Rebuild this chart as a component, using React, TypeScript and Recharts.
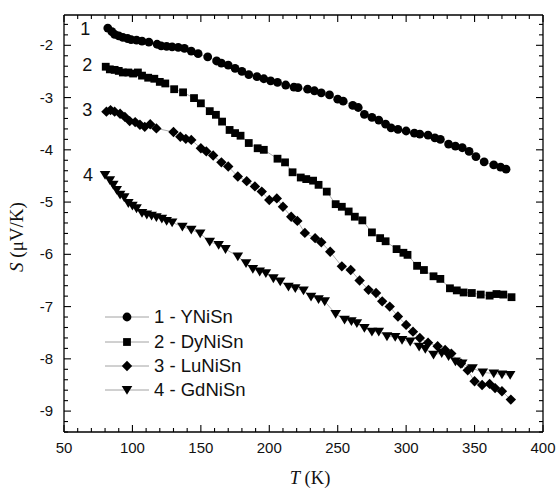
import React from 'react';
import { LineChart, Line, XAxis, YAxis, Legend, ReferenceDot } from 'recharts';

// Seebeck coefficient S (uV/K) vs temperature T (K)
const tempsYNiSn = [82, 85, 87, 90, 93, 96.5, 99, 103, 107, 112, 118, 121, 125, 129, 133.5, 138, 143, 148, 155, 161.5, 165, 170, 175, 180, 185, 191, 196, 201, 206, 212, 218, 221, 228, 233, 238, 244, 250, 254, 261, 265, 269.5, 275, 280, 285, 289, 294, 300, 306, 310, 316, 321, 325, 331, 336, 341, 346, 351, 357, 364, 369, 373];
const seebeckYNiSn = [-1.67, -1.74, -1.79, -1.82, -1.85, -1.87, -1.89, -1.9, -1.92, -1.94, -1.98, -2.01, -2.02, -2.03, -2.04, -2.06, -2.11, -2.16, -2.22, -2.3, -2.34, -2.38, -2.44, -2.5, -2.56, -2.6, -2.64, -2.68, -2.71, -2.76, -2.8, -2.81, -2.84, -2.87, -2.91, -2.95, -3.03, -3.07, -3.15, -3.19, -3.32, -3.38, -3.43, -3.51, -3.58, -3.61, -3.64, -3.68, -3.7, -3.72, -3.77, -3.8, -3.89, -3.93, -3.96, -4.03, -4.13, -4.23, -4.29, -4.33, -4.37];

const tempsDyNiSn = [80.5, 83.5, 87, 90, 93, 97, 100.5, 104, 107, 111.5, 116, 120, 124, 130.5, 137, 145, 150, 156.5, 161, 165.5, 171, 175, 179, 185, 191.5, 196, 206, 211.5, 217, 223, 227, 232, 236, 242, 248.5, 253, 258, 262.5, 268, 275, 281, 285, 293, 298, 301, 308, 313, 320, 325, 332, 337, 342, 348, 354.5, 361, 366, 371, 377];
const seebeckDyNiSn = [-2.41, -2.46, -2.47, -2.49, -2.52, -2.52, -2.54, -2.52, -2.58, -2.62, -2.64, -2.7, -2.73, -2.84, -2.9, -3.01, -3.11, -3.26, -3.33, -3.46, -3.62, -3.68, -3.73, -3.87, -3.97, -4.0, -4.17, -4.24, -4.43, -4.53, -4.56, -4.59, -4.67, -4.8, -5.04, -5.09, -5.18, -5.28, -5.35, -5.58, -5.69, -5.75, -5.9, -5.97, -6.01, -6.22, -6.3, -6.42, -6.47, -6.65, -6.69, -6.73, -6.74, -6.77, -6.79, -6.76, -6.77, -6.82];

const tempsLuNiSn = [81, 84, 87, 91, 94.5, 98, 102, 105.5, 109, 113, 117.5, 130, 135, 139, 143, 150, 154, 159, 165, 170, 177, 183.5, 189.5, 194.5, 200, 205.5, 210, 216, 220.5, 226, 233.5, 238, 244.5, 253, 259.5, 266, 272.5, 278, 282.5, 288, 294, 300, 305, 310, 316, 323, 328.5, 333, 340, 345, 350, 355.5, 361, 365, 370, 376.5];
const seebeckLuNiSn = [-3.27, -3.24, -3.27, -3.31, -3.37, -3.45, -3.47, -3.52, -3.56, -3.51, -3.59, -3.66, -3.75, -3.79, -3.81, -3.97, -4.03, -4.11, -4.24, -4.32, -4.51, -4.6, -4.7, -4.8, -4.96, -4.93, -5.09, -5.28, -5.36, -5.59, -5.69, -5.77, -5.95, -6.23, -6.3, -6.5, -6.68, -6.74, -6.9, -7.0, -7.19, -7.35, -7.48, -7.6, -7.69, -7.76, -7.83, -7.9, -8.09, -8.22, -8.43, -8.5, -8.48, -8.56, -8.62, -8.78];

const tempsGdNiSn = [80, 83.5, 86, 88.5, 91, 94, 97, 100, 103, 107, 110.5, 114, 117.5, 121.5, 125, 129, 136.5, 143, 149.5, 156.5, 163, 168, 177, 183, 188, 193, 197.5, 203, 208, 214, 219, 225, 230.5, 236, 240.5, 248.5, 255, 260, 264, 269.5, 275, 280, 286, 292, 297, 303, 309.5, 314, 320, 326, 331, 336, 341, 348.5, 356, 364, 370, 376];
const seebeckGdNiSn = [-4.48, -4.58, -4.67, -4.77, -4.86, -4.91, -5.02, -5.07, -5.12, -5.21, -5.24, -5.26, -5.29, -5.32, -5.36, -5.39, -5.47, -5.53, -5.6, -5.76, -5.82, -5.9, -6.04, -6.17, -6.28, -6.33, -6.36, -6.46, -6.52, -6.62, -6.65, -6.69, -6.81, -6.86, -6.9, -7.14, -7.25, -7.28, -7.32, -7.41, -7.48, -7.48, -7.57, -7.58, -7.64, -7.67, -7.77, -7.81, -7.92, -7.89, -7.95, -8.05, -8.09, -8.18, -8.26, -8.28, -8.3, -8.31];

const seriesNames = ['1 - YNiSn', '2 - DyNiSn', '3 - LuNiSn', '4 - GdNiSn'];
const curveLabels = ['1', '2', '3', '4'];
const curveLabelT = [65.5, 67, 67, 67.5];
const curveLabelS = [-1.69, -2.37, -3.24, -4.48];

const xMajorTicks = [50, 100, 150, 200, 250, 300, 350, 400];
const yMajorTicks = [-9, -8, -7, -6, -5, -4, -3, -2];

// minor ticks every 10 K and every 0.2 uV/K
const xTicks: number[] = [];
for (let v = 50; v <= 400; v += 10) xTicks.push(v);
const yTicks: number[] = [];
for (let k = 0; k <= 39; k++) yTicks.push(Math.round((-9.4 + k * 0.2) * 10) / 10);

const toRows = (t: number[], s: number[]) => t.map((v, i) => ({ t: v, s: s[i] }));

const FONT = '"Liberation Sans", Arial, sans-serif';
const SERIF = '"Liberation Serif", "Times New Roman", serif';
const LINE_GRAY = '#8a8a8a';

const isMajorX = (v: number) => xMajorTicks.includes(v);
const isMajorY = (v: number) => yMajorTicks.some((m) => Math.abs(m - v) < 1e-6);

type Shape = 'circle' | 'square' | 'diamond' | 'triangle';
const shapes: Shape[] = ['circle', 'square', 'diamond', 'triangle'];

function Marker({ cx, cy, shape }: { cx: number; cy: number; shape: Shape }) {
  if (cx == null || cy == null) return null;
  if (shape === 'circle') return <circle cx={cx} cy={cy} r={4.4} fill="#000" />;
  if (shape === 'square') return <rect x={cx - 3.9} y={cy - 3.9} width={7.8} height={7.8} fill="#000" />;
  if (shape === 'diamond')
    return <polygon points={`${cx},${cy - 5.2} ${cx + 5.2},${cy} ${cx},${cy + 5.2} ${cx - 5.2},${cy}`} fill="#000" />;
  return <polygon points={`${cx - 5.3},${cy - 4} ${cx + 5.3},${cy - 4} ${cx},${cy + 4.8}`} fill="#000" />;
}

const LeftTick = ({ x, y, payload }: any) => {
  const major = isMajorY(payload.value);
  return (
    <g>
      <line x1={x} x2={x + (major ? 7 : 4)} y1={y} y2={y} stroke="#000" strokeWidth={1.1} />
      {major && (
        <text x={x - 11} y={y} dy={5} textAnchor="end" fontFamily={FONT} fontSize={15} fill="#111">
          {payload.value}
        </text>
      )}
    </g>
  );
};

const RightTick = ({ x, y, payload }: any) => {
  const major = isMajorY(payload.value);
  return <line x1={x} x2={x - (major ? 7 : 4)} y1={y} y2={y} stroke="#000" strokeWidth={1.1} />;
};

const BottomTick = ({ x, y, payload }: any) => {
  const major = isMajorX(payload.value);
  return (
    <g>
      <line x1={x} x2={x} y1={y} y2={y - (major ? 7 : 4)} stroke="#000" strokeWidth={1.1} />
      {major && (
        <text x={x} y={y + 21} textAnchor="middle" fontFamily={FONT} fontSize={15} fill="#111">
          {payload.value}
        </text>
      )}
    </g>
  );
};

const TopTick = ({ x, y, payload }: any) => {
  const major = isMajorX(payload.value);
  return <line x1={x} x2={x} y1={y} y2={y + (major ? 7 : 4)} stroke="#000" strokeWidth={1.1} />;
};

const LegendBox = () => (
  <div style={{ fontFamily: FONT, fontSize: 18.5, color: '#111' }}>
    {seriesNames.map((name, i) => (
      <div key={name} style={{ display: 'flex', alignItems: 'center', height: 24.4 }}>
        <svg width={44} height={20} style={{ display: 'block' }}>
          <line x1={0} x2={44} y1={10} y2={10} stroke={LINE_GRAY} strokeWidth={0.8} />
          <Marker cx={22} cy={10} shape={shapes[i]} />
        </svg>
        <span style={{ marginLeft: 5, whiteSpace: 'nowrap' }}>{name}</span>
      </div>
    ))}
  </div>
);

const YTitle = () => (
  <text transform="translate(23, 237) rotate(-90)" textAnchor="middle" fontFamily={SERIF} fontSize={19} fill="#111">
    <tspan fontStyle="italic">S</tspan>
    <tspan> (μV/K)</tspan>
  </text>
);

const XTitle = () => (
  <text x={310} y={484} textAnchor="middle" fontFamily={SERIF} fontSize={18.5} fill="#111">
    <tspan fontStyle="italic">T</tspan>
    <tspan> (K)</tspan>
  </text>
);

const seriesRows = [
  toRows(tempsYNiSn, seebeckYNiSn),
  toRows(tempsDyNiSn, seebeckDyNiSn),
  toRows(tempsLuNiSn, seebeckLuNiSn),
  toRows(tempsGdNiSn, seebeckGdNiSn),
];

export default function App() {
  return (
    <div style={{ position: 'absolute', left: 0, top: 0, width: 556, height: 488, background: '#fff' }}>
      <LineChart width={556} height={488} margin={{ top: 14, right: 12, bottom: 26, left: 4 }}>
        <XAxis
          xAxisId="b"
          type="number"
          dataKey="t"
          domain={[50, 400]}
          ticks={xTicks}
          interval={0}
          height={30}
          tickSize={0}
          tickMargin={0}
          tickLine={false}
          tick={<BottomTick />}
          axisLine={{ stroke: '#000', strokeWidth: 1.3 }}
          allowDataOverflow
          label={{ content: () => <XTitle /> }}
        />
        <XAxis
          xAxisId="t"
          orientation="top"
          type="number"
          dataKey="t"
          domain={[50, 400]}
          ticks={xTicks}
          interval={0}
          height={1}
          tickSize={0}
          tickMargin={0}
          tickLine={false}
          tick={<TopTick />}
          axisLine={{ stroke: '#000', strokeWidth: 1.3 }}
          allowDataOverflow
        />
        <YAxis
          yAxisId="l"
          type="number"
          dataKey="s"
          domain={[-9.4, -1.42]}
          ticks={yTicks}
          interval={0}
          width={60}
          tickSize={0}
          tickMargin={0}
          tickLine={false}
          tick={<LeftTick />}
          axisLine={{ stroke: '#000', strokeWidth: 1.3 }}
          allowDataOverflow
          label={{ content: () => <YTitle /> }}
        />
        <YAxis
          yAxisId="r"
          orientation="right"
          type="number"
          dataKey="s"
          domain={[-9.4, -1.42]}
          ticks={yTicks}
          interval={0}
          width={1}
          tickSize={0}
          tickMargin={0}
          tickLine={false}
          tick={<RightTick />}
          axisLine={{ stroke: '#000', strokeWidth: 1.3 }}
          allowDataOverflow
        />
        {seriesRows.map((rows, i) => (
          <Line
            key={seriesNames[i]}
            xAxisId="b"
            yAxisId="l"
            data={rows}
            dataKey="s"
            name={seriesNames[i]}
            type="linear"
            stroke={LINE_GRAY}
            strokeWidth={0.7}
            dot={(p: any) => <Marker key={`${i}-${p.index}`} cx={p.cx} cy={p.cy} shape={shapes[i]} />}
            activeDot={false}
            isAnimationActive={false}
          />
        ))}
        {curveLabels.map((lab, i) => (
          <ReferenceDot
            key={lab}
            xAxisId="b"
            yAxisId="l"
            x={curveLabelT[i]}
            y={curveLabelS[i]}
            r={0}
            fill="none"
            stroke="none"
            ifOverflow="visible"
            label={{ value: lab, position: 'center', fontFamily: FONT, fontSize: 18, fill: '#111' }}
          />
        ))}
        <Legend
          layout="vertical"
          align="center"
          verticalAlign="middle"
          content={() => <LegendBox />}
          wrapperStyle={{ left: 105, top: 305, width: 220 }}
        />
      </LineChart>
    </div>
  );
}
